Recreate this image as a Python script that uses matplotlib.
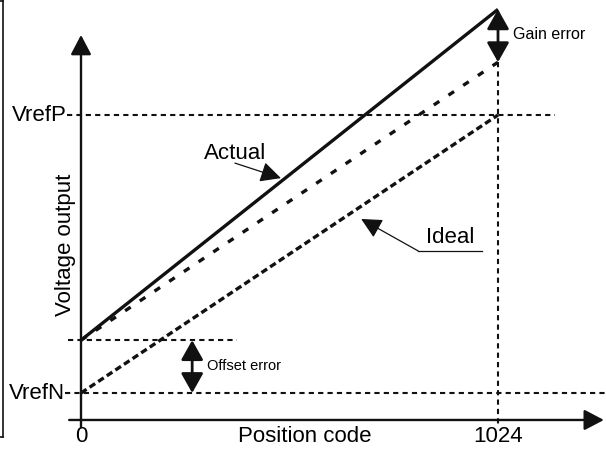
import matplotlib
matplotlib.use("Agg")
import matplotlib.pyplot as plt
from matplotlib.lines import Line2D

plt.rcParams['font.family'] = ['Liberation Sans', 'DejaVu Sans']

# transfer curve data (code -> voltage, VrefN = 0, VrefP = 1)
codes = [0, 1024]
offset_err = 0.19
gain_err = 0.19
ideal = [0.0, 1.0]
shifted = [offset_err, 1.0 + offset_err]
actual = [offset_err, 1.0 + offset_err + gain_err]
x_ticks = ['0', '1024']
y_ticks = ['VrefN', 'VrefP']

fig = plt.figure(figsize=(6.06, 4.51), dpi=100)
ax = fig.add_axes([0, 0, 1, 1])
ax.set_xlim(-198.9, 1289.2)
ax.set_ylim(-0.2086, 1.4137)
ax.axis('off')

x_axis_y = -0.097
big = 16
ink = '#111111'

# axes with arrow heads
axis_arrow = dict(arrowstyle='-|>,head_length=0.8,head_width=0.42',
                  mutation_scale=15, lw=1.7, color=ink, shrinkA=0, shrinkB=0)
ax.annotate('', xy=(1284, x_axis_y), xytext=(-29, x_axis_y), arrowprops=axis_arrow)
ax.annotate('', xy=(0, 1.288), xytext=(0, -0.122), arrowprops=axis_arrow)

# reference dotted lines
dot = dict(color=ink, lw=1.5, linestyle=(0, (2.5, 2.0)))
ax.plot([-39, 1289], [ideal[0]] * 2, **dot)
ax.plot([-34, 1164], [ideal[1]] * 2, **dot)
ax.plot([-32, 383], [offset_err] * 2, **dot)
ax.plot([codes[1]] * 2, [shifted[1], -0.11], **dot)

# transfer curves
ax.plot(codes, actual, color=ink, lw=2.4, solid_capstyle='butt')
ax.plot(codes, shifted, color=ink, lw=2.4, linestyle=(0, (2.0, 3.3)))
ax.plot(codes, ideal, color=ink, lw=2.4, linestyle=(0, (2.0, 1.1)))

# error arrows
err_arrow = dict(arrowstyle='<|-|>,head_length=0.8,head_width=0.45',
                 mutation_scale=15, lw=2.0, color=ink, shrinkA=0, shrinkB=0)
ax.annotate('', xy=(273, ideal[0]), xytext=(273, offset_err), arrowprops=err_arrow)
ax.annotate('', xy=(codes[1], shifted[1]), xytext=(codes[1], actual[1]),
            arrowprops=err_arrow)
ax.text(309, 0.097, 'Offset error', fontsize=10.5, va='center', ha='left')
ax.text(1061, 1.288, 'Gain error', fontsize=11.5, va='center', ha='left')

# curve labels
label_arrow = dict(arrowstyle='-|>,head_length=0.9,head_width=0.45',
                   mutation_scale=14, lw=0.9, color=ink, shrinkA=0, shrinkB=0)
ax.text(378, 0.863, 'Actual', fontsize=big, ha='center', va='center')
ax.annotate('', xy=(491, 0.773), xytext=(378, 0.827), arrowprops=label_arrow)
ax.text(906, 0.558, 'Ideal', fontsize=big, ha='center', va='center')
ax.plot([828, 985], [0.511, 0.511], color=ink, lw=0.9)
ax.annotate('', xy=(688, 0.626), xytext=(828, 0.511), arrowprops=label_arrow)

# tick labels and axis titles
for c, lab in zip(codes, x_ticks):
    ax.text(c, -0.158, lab, fontsize=big, ha='center', va='center')
ax.text(-34, ideal[1], y_ticks[1], fontsize=big, ha='right', va='center')
ax.text(-39, ideal[0], y_ticks[0], fontsize=big, ha='right', va='center')
ax.text(550, -0.158, 'Position code', fontsize=big, ha='center', va='center')
ax.text(-39, 0.532, 'Voltage output', fontsize=big, ha='center', va='center',
        rotation=90)

# left frame remnant
H, W = 451, 606
fig.add_artist(Line2D([3 / W, 3 / W], [1, 1 - 437 / H], color=ink, lw=1.2))
fig.add_artist(Line2D([0, 3 / W], [1 - 1 / H, 1 - 1 / H], color=ink, lw=1.2))
fig.add_artist(Line2D([0, 3 / W], [1 - 437 / H, 1 - 437 / H], color=ink, lw=1.2))

fig.savefig('out.png', dpi=100)
